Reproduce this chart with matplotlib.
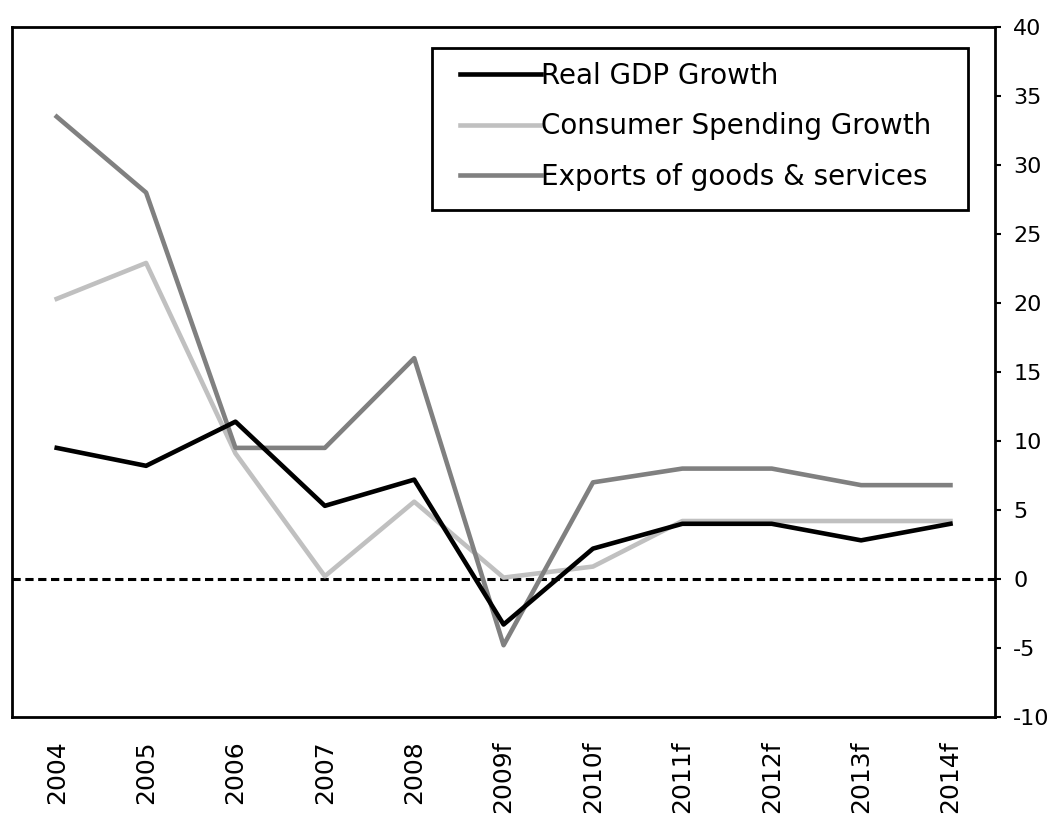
import matplotlib.pyplot as plt
import matplotlib.patches as patches
import numpy as np

years = ['2004', '2005', '2006', '2007', '2008', '2009f', '2010f',
         '2011f', '2012f', '2013f', '2014f']
gdp = [9.5, 8.2, 11.4, 5.3, 7.2, -3.3, 2.2, 4.0, 4.0, 2.8, 4.0]
consumer = [20.3, 22.9, 9.1, 0.2, 5.6, 0.1, 0.9, 4.2, 4.2, 4.2, 4.2]
exports = [33.5, 28.0, 9.5, 9.5, 16.0, -4.8, 7.0, 8.0, 8.0, 6.8, 6.8]

plt.rcParams['font.family'] = ['DejaVu Sans']
plt.rcParams['axes.unicode_minus'] = False

fig = plt.figure(figsize=(10.64, 8.18), dpi=100)
ax = fig.add_axes([0.0113, 0.1235, 0.924, 0.8435])

x = np.arange(len(years))
lw = 3.3
ax.plot(x, gdp, color='black', lw=lw, label='Real GDP Growth', zorder=3)
ax.plot(x, consumer, color='#c0c0c0', lw=lw, label='Consumer Spending Growth', zorder=2)
ax.plot(x, exports, color='#808080', lw=lw, label='Exports of goods & services', zorder=2)

# zero reference line
ax.axhline(0, color='black', lw=2.2, ls=(0, (2.7, 1.5)), zorder=1)

ax.set_xlim(-0.5, len(years) - 0.5)
ax.set_ylim(-10, 40)
ax.set_yticks(range(-10, 41, 5))
ax.yaxis.tick_right()
ax.tick_params(axis='y', direction='out', length=4, width=1.5, labelsize=16, pad=9)
ax.set_xticks(x)
ax.set_xticklabels(years, rotation=90, fontsize=18)
ax.tick_params(axis='x', length=0, pad=17)

for s in ax.spines.values():
    s.set_linewidth(2)

# legend box drawn separately so the padding can differ per side
box = patches.Rectangle((0.4273, 0.7348), 0.9725 - 0.4273, 0.9696 - 0.7348,
                        transform=ax.transAxes, facecolor='white',
                        edgecolor='black', linewidth=2, zorder=4)
ax.add_patch(box)
leg = ax.legend(loc='upper left', bbox_to_anchor=(0.4557, 0.9493), fontsize=20,
                frameon=False, handlelength=2.9, handletextpad=0.0,
                labelspacing=0.81, borderpad=0, borderaxespad=0)
leg.set_zorder(5)

fig.savefig('out.png', dpi=100)
